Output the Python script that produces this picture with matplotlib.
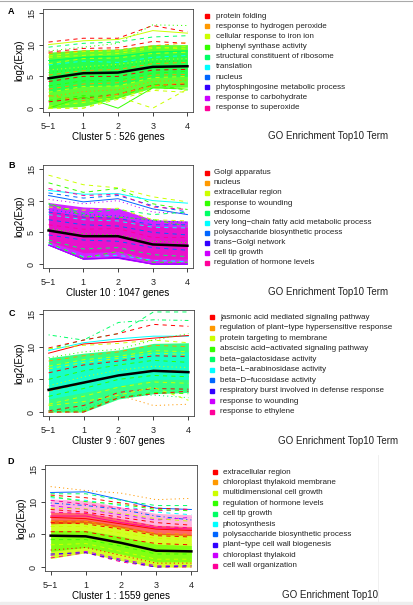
import matplotlib
matplotlib.use("Agg")
import matplotlib.pyplot as plt
from matplotlib.lines import Line2D

plt.rcParams['font.family'] = ['Liberation Sans', 'DejaVu Sans']
plt.rcParams['lines.scale_dashes'] = False

W, H = 414, 605

# R rainbow(10) colours, one per GO term
term_colors = ['#FF0000', '#FF9900', '#CCFF00', '#33FF00', '#00FF66',
               '#00FFFF', '#0066FF', '#3300FF', '#CC00FF', '#FF0099']
x_labels = ['5\u22121', '1', '2', '3', '4']
ltys = ['-', (0, (3, 3)), (0, (0.8, 2.2)), (0, (0.8, 2.2, 3, 2.2)),
        (0, (5.5, 2.2)), (0, (1.5, 1.5, 4.5, 1.5))]

# ---- cluster 5 (A)
a_title = 'Cluster 5 : 526 genes'
a_terms = ['protein folding', 'response to hydrogen peroxide', 'cellular response to iron ion',
           'biphenyl synthase activity', 'structural constituent of ribosome', 'translation',
           'nucleus', 'phytosphingosine metabolic process', 'response to carbohydrate',
           'response to superoxide']
a_mean = [4.7, 5.5, 5.6, 6.5, 6.6]
a_bands = [([0.0, 0.3, 1.6, 3.2, 3.3], [8.8, 9.2, 9.3, 10.0, 10.0], 3),
           ([2.5, 3.4, 3.6, 4.8, 5.0], [7.6, 8.2, 8.3, 9.0, 9.2], 4)]
a_genes = [[10.4, 11.0, 11.0, 13.0, 12.0], [10.0, 10.6, 10.8, 12.2, 11.8],
           [9.0, 9.6, 10.2, 13.1, 13.0], [8.8, 9.4, 9.5, 10.5, 10.2],
           [9.6, 10.2, 10.4, 11.2, 11.4], [8.6, 9.0, 9.2, 9.8, 10.3],
           [8.2, 8.9, 9.0, 9.6, 9.3], [7.5, 8.0, 8.2, 8.8, 9.0],
           [6.8, 7.4, 7.2, 8.0, 8.3], [6.0, 6.5, 6.9, 7.6, 7.8],
           [5.2, 5.9, 6.1, 7.0, 7.2], [4.2, 5.0, 5.0, 6.0, 6.1],
           [3.5, 4.3, 4.4, 5.5, 5.8], [2.5, 3.4, 3.5, 4.8, 5.0],
           [1.8, 2.6, 2.9, 4.2, 4.4], [1.0, 1.6, 2.2, 3.6, 3.8],
           [0.3, 0.9, 1.8, 3.0, 3.2], [0.0, 1.8, 0.0, 3.2, 3.0],
           [0.0, 0.0, 1.8, 0.0, 3.0], [0.0, 0.0, 1.4, 2.8, 2.5],
           [1.2, 2.0, 1.6, 3.8, 2.8], [2.0, 1.2, 2.2, 3.5, 4.0],
           [7.0, 7.8, 7.9, 8.6, 8.8], [5.6, 6.2, 6.6, 7.2, 7.5],
           [3.0, 3.8, 4.0, 5.2, 5.3], [8.0, 8.3, 8.6, 9.4, 9.7]]
a_gene_col = [0, 2, 3, 0, 4, 1, 2, 4, 5, 2, 1, 0, 3, 2, 1, 0, 2, 3, 2, 2, 3, 1, 2, 3, 1, 2]
a_gene_lty = [1, 0, 2, 1, 1, 1, 1, 0, 1, 2, 1, 1, 1, 1, 2, 1, 1, 0, 1, 1, 1, 1, 1, 2, 1, 1]

# ---- cluster 10 (B)
b_title = 'Cluster 10 : 1047 genes'
b_terms = ['Golgi apparatus', 'nucleus', 'extracellular region', 'response to wounding',
           'endosome', 'very long\u2212chain fatty acid metabolic process',
           'polysaccharide biosynthetic process', 'trans\u2212Golgi network',
           'cell tip growth', 'regulation of hormone levels']
b_mean = [5.3, 4.4, 4.4, 3.1, 2.9]
b_bands = [([3.0, 0.8, 1.0, 0.0, 0.0], [9.7, 9.0, 8.8, 7.0, 6.8], 8),
           ([3.6, 1.8, 2.0, 0.8, 0.8], [8.4, 7.6, 7.4, 6.0, 5.8], 9)]
b_genes = [[14.0, 12.5, 12.0, 10.6, 9.8], [12.8, 11.3, 11.9, 9.5, 8.6],
           [11.6, 11.0, 11.1, 10.0, 9.6], [11.2, 10.4, 10.8, 9.2, 8.2],
           [10.8, 9.8, 10.3, 8.7, 7.8], [11.9, 10.8, 11.0, 9.0, 8.6],
           [10.2, 9.5, 10.0, 8.2, 8.0], [9.4, 8.0, 8.6, 7.8, 8.2],
           [9.0, 8.5, 8.8, 7.0, 6.8], [8.6, 7.8, 7.6, 6.8, 6.6],
           [9.6, 7.6, 7.4, 7.0, 6.0], [7.8, 7.0, 6.8, 5.8, 5.7],
           [7.0, 6.2, 6.0, 5.0, 4.6], [6.2, 5.5, 5.6, 4.2, 4.2],
           [4.6, 3.8, 3.6, 2.6, 2.2], [3.8, 2.4, 2.6, 1.5, 1.2],
           [3.2, 1.2, 1.4, 0.6, 0.4], [3.0, 0.8, 1.0, 0.0, 0.0],
           [3.4, 1.0, 2.0, 0.3, 0.3], [3.0, 0.8, 0.9, 0.0, 0.0],
           [8.2, 7.4, 7.2, 6.2, 6.2], [5.6, 4.8, 4.6, 3.6, 3.4]]
b_gene_col = [2, 3, 5, 6, 6, 9, 8, 4, 2, 6, 3, 5, 6, 9, 6, 4, 5, 7, 3, 8, 6, 3]
b_gene_lty = [1, 1, 0, 1, 0, 1, 2, 1, 1, 2, 3, 1, 1, 1, 1, 1, 1, 0, 1, 0, 1, 2]

# ---- cluster 9 (C)
c_title = 'Cluster 9 : 607 genes'
c_terms = ['jasmonic acid mediated signaling pathway',
           'regulation of plant\u2212type hypersensitive response',
           'protein targeting to membrane', 'abscisic acid\u2212activated signaling pathway',
           'beta\u2212galactosidase activity', 'beta\u2212L\u2212arabinosidase activity',
           'beta\u2212D\u2212fucosidase activity',
           'respiratory burst involved in defense response', 'response to wounding',
           'response to ethylene']
c_mean = [3.4, 4.5, 5.6, 6.3, 6.1]
c_bands = [([0.0, 0.0, 2.0, 2.8, 3.0], [8.3, 9.0, 9.5, 10.5, 10.6], 4),
           ([2.0, 3.0, 4.0, 5.0, 5.0], [7.0, 8.0, 8.6, 9.2, 9.2], 5)]
c_genes = [[9.6, 11.0, 12.0, 15.3, 15.3], [11.8, 11.0, 13.7, 14.1, 14.0],
           [9.8, 11.0, 12.0, 13.4, 13.1], [9.4, 10.6, 11.2, 11.6, 11.6],
           [9.0, 10.4, 10.8, 11.3, 11.7], [9.7, 10.2, 10.5, 11.0, 10.6],
           [8.3, 9.2, 9.6, 11.0, 12.0], [7.8, 8.6, 9.2, 10.2, 10.0],
           [7.0, 8.0, 8.5, 9.4, 9.2], [6.0, 7.2, 7.8, 8.6, 8.5],
           [5.0, 6.3, 7.2, 7.9, 7.6], [4.0, 5.4, 6.4, 7.0, 6.8],
           [2.4, 3.6, 5.0, 5.6, 5.4], [1.2, 2.4, 3.8, 4.6, 4.4],
           [0.2, 1.0, 3.0, 3.6, 3.5], [0.0, 0.2, 2.2, 3.0, 2.8],
           [0.0, 0.0, 2.6, 1.0, 1.2], [0.0, 0.0, 2.2, 2.8, 3.2],
           [0.2, 0.5, 2.4, 2.6, 2.2], [1.0, 1.6, 2.6, 3.8, 1.8],
           [6.6, 7.6, 8.2, 9.0, 8.8], [3.2, 4.4, 5.6, 6.4, 6.2]]
c_gene_col = [4, 4, 0, 5, 0, 2, 3, 1, 2, 0, 3, 2, 3, 2, 0, 3, 1, 0, 4, 2, 2, 1]
c_gene_lty = [1, 3, 1, 0, 0, 1, 2, 1, 1, 1, 1, 2, 1, 1, 1, 1, 2, 1, 2, 1, 1, 1]

# ---- cluster 1 (D)
d_title = 'Cluster 1 : 1559 genes'
d_terms = ['extracellular region', 'chloroplast thylakoid membrane',
           'multidimensional cell growth', 'regulation of hormone levels', 'cell tip growth',
           'photosynthesis', 'polysaccharide biosynthetic process',
           'plant\u2212type cell wall biogenesis', 'chloroplast thylakoid',
           'cell wall organization']
d_mean = [4.8, 4.7, 3.7, 2.5, 2.4]
d_bands = [([1.3, 2.2, 1.0, 0.0, 0.0], [7.2, 7.2, 6.3, 5.2, 5.0], 2),
           ([2.4, 3.0, 2.0, 0.8, 0.8], [5.6, 5.6, 4.7, 3.5, 3.3], 3),
           ([6.6, 6.8, 6.0, 5.0, 4.8], [8.4, 8.3, 7.4, 6.4, 6.2], 0),
           ([8.4, 8.3, 7.4, 6.4, 6.2], [10.4, 10.2, 9.2, 8.2, 8.0], 9)]
d_genes = [[12.3, 11.7, 11.3, 10.3, 10.5], [11.4, 11.5, 10.3, 9.0, 8.8],
           [11.2, 11.2, 10.2, 9.4, 9.4], [11.0, 10.6, 9.8, 9.0, 8.8],
           [10.6, 10.2, 9.4, 8.4, 8.0], [10.2, 9.6, 9.0, 8.6, 8.8],
           [9.8, 9.4, 8.8, 7.8, 7.2], [9.4, 8.8, 8.0, 7.2, 7.6],
           [8.8, 8.4, 7.6, 6.8, 6.4], [8.4, 8.2, 7.2, 6.2, 6.0],
           [7.6, 7.4, 6.6, 5.8, 5.6], [7.0, 7.0, 6.0, 5.2, 5.0],
           [6.2, 6.2, 5.2, 4.4, 4.2], [5.4, 5.4, 4.4, 3.6, 3.4],
           [4.2, 4.2, 3.2, 2.0, 2.0], [3.4, 3.6, 2.4, 1.2, 1.2],
           [2.6, 3.0, 1.8, 0.6, 0.6], [1.8, 2.4, 1.2, 0.2, 0.2],
           [1.4, 2.2, 0.8, 0.0, 0.0], [2.0, 2.2, 1.0, 0.0, 0.2],
           [9.0, 8.9, 8.2, 7.4, 7.0], [10.8, 10.0, 9.6, 8.8, 8.6],
           [6.8, 6.6, 5.8, 4.8, 4.6], [7.8, 7.8, 6.8, 6.0, 5.8]]
d_gene_col = [1, 6, 4, 0, 5, 9, 6, 8, 0, 9, 0, 1, 2, 0, 3, 2, 0, 8, 9, 7, 2, 3, 0, 9]
d_gene_lty = [2, 0, 1, 1, 1, 1, 3, 1, 1, 1, 0, 1, 1, 1, 1, 1, 2, 1, 1, 1, 1, 1, 1, 0]

x = list(range(len(x_labels)))

# pixel layout: axes box (left, top, right, bottom), letter, legend, GO title, band alphas
panels = [
    dict(letter='A', title=a_title, terms=a_terms, mean=a_mean, bands=a_bands,
         genes=a_genes, gcol=a_gene_col, glty=a_gene_lty, alphas=[0.8, 0.55],
         box=(43, 9, 193, 112), let=(11, 11), leg=(207, 216, 16, 10.2), go=(328, 136, 'GO Enrichment Top10 Term')),
    dict(letter='B', title=b_title, terms=b_terms, mean=b_mean, bands=b_bands,
         genes=b_genes, gcol=b_gene_col, glty=b_gene_lty, alphas=[0.85, 0.5],
         box=(43, 165, 193, 268), let=(12, 165), leg=(207, 214, 173, 10.0), go=(328, 292, 'GO Enrichment Top10 Term')),
    dict(letter='C', title=c_title, terms=c_terms, mean=c_mean, bands=c_bands,
         genes=c_genes, gcol=c_gene_col, glty=c_gene_lty, alphas=[0.8, 0.55],
         box=(43, 310, 194, 416), let=(12, 314), leg=(212, 220, 317, 10.55), go=(338, 441, 'GO Enrichment Top10 Term')),
    dict(letter='D', title=d_title, terms=d_terms, mean=d_mean, bands=d_bands,
         genes=d_genes, gcol=d_gene_col, glty=d_gene_lty, alphas=[0.85, 0.5, 0.6, 0.3],
         box=(45, 465, 197, 571), let=(11, 462), leg=(215, 223, 472, 10.4), go=(330, 595, 'GO Enrichment Top10')),
]


def fx(px):
    return px / W


def fy(py):
    return 1 - py / H


fig = plt.figure(figsize=(W / 100, H / 100), dpi=100)

for p in panels:
    l, t, r, b = p['box']
    ax = fig.add_axes([fx(l), fy(b), (r - l) / W, (b - t) / H])
    for (lo, hi, ci), al in zip(p['bands'], p['alphas']):
        ax.fill_between(x, lo, hi, color=term_colors[ci], lw=0, alpha=al)
    for vals, ci, li in zip(p['genes'], p['gcol'], p['glty']):
        ax.plot(x, vals, color=term_colors[ci], ls=ltys[li], lw=0.7)
    ax.plot(x, p['mean'], color='black', lw=1.8)
    ax.set_xlim(-0.16, 4.16)
    ax.set_ylim(-0.6, 15.6)
    ax.set_xticks(x)
    ax.set_xticklabels(x_labels)
    ax.set_yticks([0, 5, 10, 15])
    ax.tick_params(labelsize=6.5, length=3, width=0.6, pad=2, colors='#222222')
    ax.tick_params(axis='x', pad=4.5)
    for lab in ax.get_yticklabels():
        lab.set_rotation(90)
        lab.set_va('center')
    for s in ax.spines.values():
        s.set_linewidth(0.6)
        s.set_color('#444444')
    ax.set_ylabel('log2(Exp)', fontsize=7, labelpad=2)
    ax.set_xlabel(p['title'], fontsize=7, labelpad=0.5)

    fig.text(fx(p['let'][0]), fy(p['let'][1]), p['letter'], fontsize=6.5,
             fontweight='bold', ha='center', va='center')

    sq_x, tx_x, y0, dy = p['leg']
    for i, term in enumerate(p['terms']):
        yy = fy(y0 + i * dy)
        fig.add_artist(Line2D([fx(sq_x)], [yy], marker='s', ms=3, color=term_colors[i],
                              transform=fig.transFigure))
        fig.text(fx(tx_x), yy, term, fontsize=5.8, va='center', ha='left', color='#222222')
    gx, gy, gtxt = p['go']
    fig.text(fx(gx), fy(gy), gtxt, fontsize=7, ha='center', va='center', color='#222222')

# page edges seen in the screenshot
fig.add_artist(Line2D([0, 1], [fy(1), fy(1)], color='#aaaaaa', lw=0.8, transform=fig.transFigure))
fig.add_artist(Line2D([fx(378), fx(378)], [fy(455), fy(602)], color='#eeeeee', lw=0.6,
                      transform=fig.transFigure))
fig.patches.append(plt.Rectangle((0, 0), 1, fy(602), color='#eeeeee',
                                 transform=fig.transFigure, figure=fig))

fig.savefig('out.png', dpi=100)
